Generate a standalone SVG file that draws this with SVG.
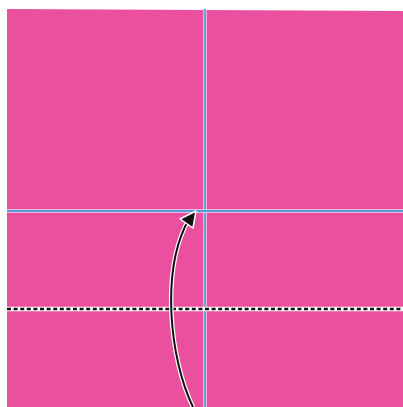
<svg xmlns="http://www.w3.org/2000/svg" width="403" height="407" viewBox="0 0 403 407">
<style>
.crease{stroke:#f4d8ea;stroke-width:3.4;fill:none}
.creaseC{stroke:#4f9ee0;stroke-width:1.8;fill:none}
.arrowW{stroke:#ffffff;stroke-width:4.5;fill:none}
.arrowB{stroke:#111111;stroke-width:2;fill:none}
</style>
<rect x="0" y="0" width="403" height="407" fill="#ffffff"/>
<g id="paper">
<polygon points="7,9 403,11 403,407 7,407" fill="#ea509e"/>
</g>
<g id="creases">
<line class="crease" x1="205" y1="9" x2="205" y2="407"/>
<line class="creaseC" x1="205" y1="9" x2="205" y2="407"/>
<line class="crease" x1="7" y1="211" x2="403" y2="211"/>
<line class="creaseC" x1="7" y1="211" x2="403" y2="211"/>
</g>
<g id="valley-fold">
<line x1="7" y1="309" x2="403" y2="309" stroke="#ffffff" stroke-width="4.5"/>
<line x1="7" y1="309" x2="403" y2="309" stroke="#111111" stroke-width="2.4" stroke-dasharray="4,2.6"/>
</g>
<g id="connectors">
<path class="arrowW" d="M193,407 C170,360 160,270 189,219"/>
<path class="arrowB" d="M193,407 C170,360 160,270 189,219"/>
<polygon points="196,211 180,219 193,228" fill="#111111" stroke="#ffffff" stroke-width="1.5" stroke-linejoin="round"/>
</g>
</svg>
